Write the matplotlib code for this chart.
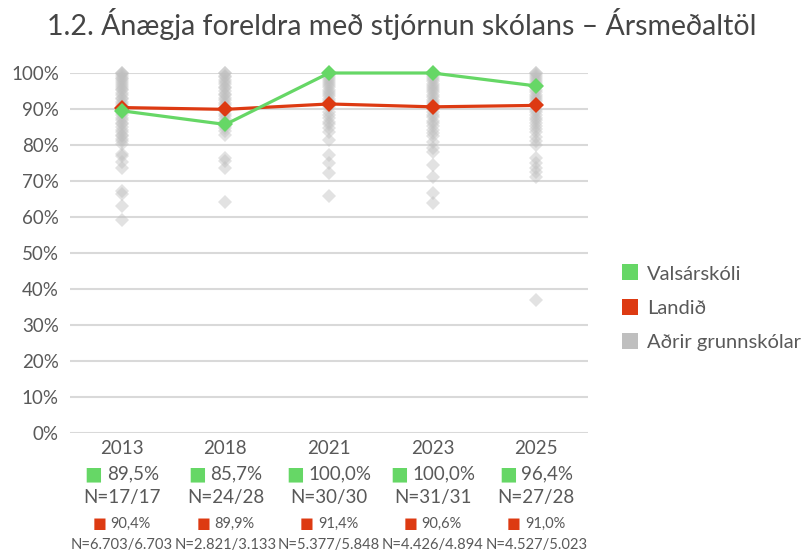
import matplotlib
matplotlib.use("Agg")
import matplotlib.pyplot as plt
from matplotlib.lines import Line2D
from matplotlib.offsetbox import TextArea, HPacker, AnnotationBbox

# ---- data ----
years = ["2013", "2018", "2021", "2023", "2025"]
school_vals = [89.5, 85.7, 100.0, 100.0, 96.4]
school_labels = ["89,5%", "85,7%", "100,0%", "100,0%", "96,4%"]
school_n = ["N=17/17", "N=24/28", "N=30/30", "N=31/31", "N=27/28"]
land_vals = [90.4, 89.9, 91.4, 90.6, 91.0]
land_labels = ["90,4%", "89,9%", "91,4%", "90,6%", "91,0%"]
land_n = ["N=6.703/6.703", "N=2.821/3.133", "N=5.377/5.848", "N=4.426/4.894", "N=4.527/5.023"]

others_2013 = [100, 100, 99.6, 99.1, 98.7, 98.2, 97.9, 97.1, 96.8, 96.0, 95.6, 95.2, 94.4, 93.9,
               93.1, 92.8, 92.0, 91.3, 90.9, 90.1, 89.6, 88.8, 88.2, 87.5, 86.9, 86.1, 85.7,
               85.0, 84.3, 83.6, 82.9, 82.4, 81.7, 81.0, 80.4, 77.4, 76.9, 75.4, 73.5, 67.2,
               66.3, 63.1, 59.1]
others_2018 = [100, 100, 99.3, 98.9, 98.1, 97.6, 96.9, 96.2, 95.7, 95.0, 94.3, 93.8, 93.0,
               92.4, 91.6, 91.0, 90.3, 89.5, 88.7, 88.0, 87.2, 86.3, 85.4, 84.6, 83.9, 82.8,
               76.3, 75.5, 73.5, 64.3]
others_2021 = [100, 100, 99.5, 99.0, 98.4, 97.8, 97.2, 96.7, 96.1, 95.4, 94.8, 94.1, 93.5,
               92.8, 92.2, 90.6, 89.2, 88.3, 87.4, 86.5, 85.7, 84.6, 83.7, 81.4, 77.2, 74.9,
               72.1, 65.9]
others_2023 = [100, 100, 99.4, 98.8, 98.3, 97.7, 97.0, 96.4, 95.9, 95.2, 94.6, 93.9, 93.3,
               92.6, 92.0, 91.3, 90.0, 89.2, 88.4, 87.7, 86.8, 86.0, 85.2, 84.3, 83.4, 82.6,
               80.7, 79.3, 78.1, 74.4, 71.2, 66.6, 63.8]
others_2025 = [100, 100, 99.5, 99.0, 98.4, 97.9, 97.2, 96.6, 96.0, 95.3, 94.7, 94.0, 93.4,
               92.7, 92.1, 91.4, 89.8, 89.1, 88.3, 87.6, 86.9, 86.0, 85.2, 84.4, 83.5, 82.3,
               81.2, 80.1, 76.3, 74.9, 73.5, 72.4, 71.2, 36.9]
others = [others_2013, others_2018, others_2021, others_2023, others_2025]

yticks = [0, 10, 20, 30, 40, 50, 60, 70, 80, 90, 100]

# ---- style ----
GREEN = "#66D766"
RED = "#DD3A12"
GRAY = "#BFBFBF"
TXT = "#595959"
FONT = ["Lato", "DejaVu Sans"]
plt.rcParams["font.family"] = FONT

fig = plt.figure(figsize=(8.10, 5.51), dpi=100)
ax = fig.add_axes([70 / 810, 1 - 433 / 551, 518 / 810, 360 / 551])

x = list(range(len(years)))
for i, vals in enumerate(others):
    ax.plot([x[i]] * len(vals), vals, linestyle="none", marker="D", markersize=7,
            color=GRAY, alpha=0.45, markeredgewidth=0, clip_on=False, zorder=2)

ax.plot(x, land_vals, color=RED, lw=2.3, marker="D", markersize=8.5,
        markeredgewidth=0, clip_on=False, zorder=3)
ax.plot(x, school_vals, color=GREEN, lw=2.3, marker="D", markersize=8.5,
        markeredgewidth=0, clip_on=False, zorder=4)

ax.set_xlim(-0.5, len(years) - 0.5)
ax.set_ylim(0, 100)
ax.set_yticks(yticks)
ax.set_yticklabels([f"{v}%" for v in yticks], fontsize=13.5, color=TXT)
ax.set_xticks(x)
ax.set_xticklabels(years, fontsize=13.5, color=TXT)
ax.tick_params(axis="both", length=0)
ax.tick_params(axis="y", pad=8)
ax.tick_params(axis="x", pad=5)
ax.grid(axis="y", color="#D9D9D9", lw=1.5)
ax.set_axisbelow(True)
for s in ax.spines.values():
    s.set_visible(False)

xt = ax.get_xaxis_transform()


def packed(xpos, ypos, sq_color, sq_size, text, size):
    sq = TextArea("■", textprops=dict(color=sq_color, fontsize=sq_size, family=["DejaVu Sans"]))
    tx = TextArea(text, textprops=dict(color=TXT, fontsize=size, family=FONT))
    box = HPacker(children=[sq, tx], sep=3, pad=0, align="baseline")
    ab = AnnotationBbox(box, (xpos, ypos), xycoords=xt, frameon=False,
                        box_alignment=(0.5, 0.5), pad=0, annotation_clip=False)
    ax.add_artist(ab)


for i in x:
    packed(i, (433 - 474) / 360, GREEN, 13.5, school_labels[i], 13.5)
    ax.text(i, (433 - 497) / 360, school_n[i], transform=xt, ha="center", va="center",
            fontsize=13.5, color=TXT)
    packed(i, (433 - 523) / 360, RED, 10.5, land_labels[i], 10.5)
    ax.text(i, (433 - 545) / 360, land_n[i], transform=xt, ha="center", va="center",
            fontsize=10.6, color=TXT)

fig.text(402 / 810, 1 - 24 / 551, "1.2. Ánægja foreldra með stjórnun skólans – Ársmeðaltöl",
         ha="center", va="center", fontsize=20.5, color="#454545")

handles = [Line2D([], [], linestyle="none", marker="s", markersize=11, color=c, markeredgewidth=0)
           for c in (GREEN, RED, GRAY)]
fig.legend(handles, ["Valsárskóli", "Landið", "Aðrir grunnskólar"], loc="center left",
           bbox_to_anchor=(613 / 810, 1 - 308 / 551), frameon=False, fontsize=14.5,
           labelcolor=TXT, handlelength=0.7, handletextpad=0.5, labelspacing=0.84,
           borderpad=0)

fig.savefig("out.png", dpi=100)
